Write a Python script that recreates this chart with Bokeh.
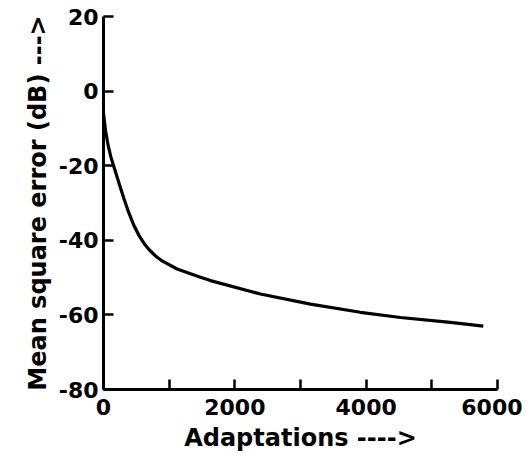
from bokeh.plotting import figure
from bokeh.models import Range1d, FixedTicker
from bokeh.embed import file_html
from bokeh.resources import INLINE

# Data
adaptations = [0, 30, 70, 110, 157, 233, 310, 385, 460, 537, 620, 700, 791, 900, 1121,
               1476, 1629, 2390, 3151, 3912, 4521, 5282, 5784]
mse_db = [-5.9, -10.5, -14.5, -17.5, -20.2, -24.5, -28.8, -32.6, -35.9, -38.6, -40.9, -42.6, -44.2,
          -45.6, -47.7, -49.9, -50.8, -54.4, -57.1, -59.3, -60.7, -62.0, -63.0]

x_ticks = [0, 1000, 2000, 3000, 4000, 5000, 6000]
x_tick_labels = ["0", "", "2000", "", "4000", "", "6000"]
y_ticks = [-80, -60, -40, -20, 0, 20]
y_tick_labels = ["-80", "-60", "-40", "-20", "0", "20"]

FONT = "DejaVu Sans"

p = figure(width=522, height=457, output_backend="svg", toolbar_location=None,
           x_range=Range1d(0, 6000), y_range=Range1d(-80, 20),
           min_border_left=103, min_border_right=25, min_border_top=16, min_border_bottom=68)
p.outline_line_color = None
p.xgrid.visible = False
p.ygrid.visible = False
p.background_fill_color = "white"
p.border_fill_color = "white"

p.line(adaptations, mse_db, line_color="black", line_width=3.2, line_join="round")

for ax in (p.xaxis[0], p.yaxis[0]):
    ax.axis_line_width = 3
    ax.axis_line_color = "black"
    ax.major_tick_line_width = 2.5
    ax.major_tick_line_color = "black"
    ax.major_tick_in = 10
    ax.major_tick_out = 0
    ax.minor_tick_line_color = None
    ax.major_label_text_font = FONT
    ax.major_label_text_font_style = "bold"
    ax.major_label_text_font_size = "22px"
    ax.major_label_text_color = "black"
    ax.axis_label_text_font = FONT
    ax.axis_label_text_font_style = "bold"
    ax.axis_label_text_font_size = "24px"
    ax.axis_label_text_color = "black"

p.xaxis[0].ticker = FixedTicker(ticks=x_ticks)
p.xaxis[0].major_label_overrides = {t: l for t, l in zip(x_ticks, x_tick_labels)}
p.xaxis[0].major_label_standoff = 9
p.xaxis[0].axis_label = "Adaptations ---->"
p.xaxis[0].axis_label_standoff = 6

p.yaxis[0].ticker = FixedTicker(ticks=y_ticks)
p.yaxis[0].major_label_overrides = {t: l for t, l in zip(y_ticks, y_tick_labels)}
p.yaxis[0].major_label_standoff = 5
p.yaxis[0].axis_label = "Mean square error (dB) --->"
p.yaxis[0].axis_label_standoff = 4

open("out.html", "w").write(file_html(p, INLINE))
